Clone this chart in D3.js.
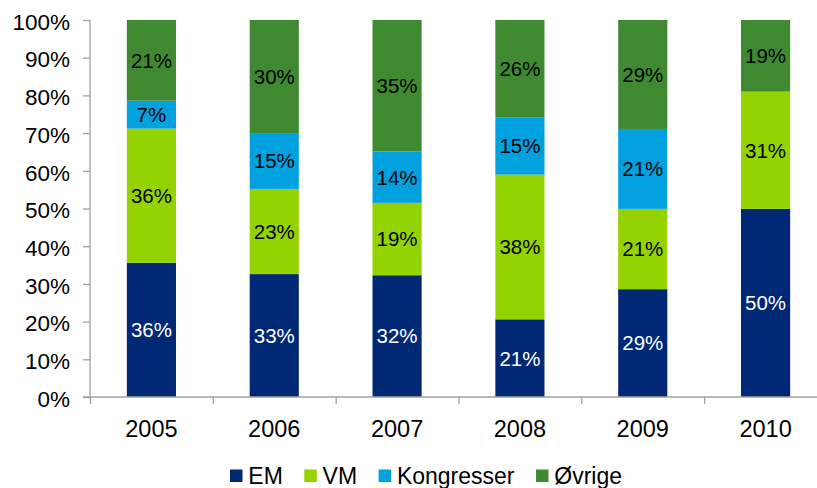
<!DOCTYPE html>
<html>
<head>
<meta charset="utf-8">
<script src="https://cdn.jsdelivr.net/npm/d3@7"></script>
<style>
  body { margin: 0; background: #fff; }
  text { font-family: "Liberation Sans", Arial, sans-serif; }
</style>
</head>
<body>
<div id="chart"></div>
<script>
// data (share of total, %)
const years = ["2005", "2006", "2007", "2008", "2009", "2010"];
const seriesNames = ["EM", "VM", "Kongresser", "Øvrige"];
const emValues = [35.6, 32.6, 32.3, 20.6, 28.6, 49.9];
const vmValues = [35.6, 22.6, 19.2, 38.4, 21.3, 31.1];
const kongValues = [7.4, 14.8, 13.6, 15.1, 21.2, 0];
const ovrigeValues = [21.4, 30.0, 34.9, 25.9, 28.9, 19.0];
const yTicks = [0, 10, 20, 30, 40, 50, 60, 70, 80, 90, 100];

const colors = ["#002874", "#94d200", "#00a1de", "#3f8a30"];
const labelColors = ["#ffffff", "#000000", "#000000", "#000000"];

const svgWidth = 817;
const svgHeight = 488;

const plot = { left: 90, right: 827, top: 20, bottom: 397 };

const svg = d3.select("#chart")
  .append("svg")
  .attr("width", svgWidth)
  .attr("height", svgHeight);

// table for the stack
const table = years.map((y, i) => ({
  year: y,
  EM: emValues[i],
  VM: vmValues[i],
  Kongresser: kongValues[i],
  "Øvrige": ovrigeValues[i]
}));

const stack = d3.stack().keys(seriesNames)(table);

// scales
const xScale = d3.scaleBand()
  .domain(years)
  .range([plot.left, plot.right])
  .paddingInner(0.6)
  .paddingOuter(0.3);

const xEdge = d3.scaleLinear()
  .domain([0, years.length])
  .range([plot.left, plot.right]);

const yScale = d3.scaleLinear()
  .domain([0, 100])
  .range([plot.bottom, plot.top]);

// bars
const layers = svg.selectAll("g.layer")
  .data(stack)
  .enter()
  .append("g")
  .attr("class", "layer")
  .attr("fill", (d, i) => colors[i]);

layers.selectAll("rect")
  .data(d => d)
  .enter()
  .append("rect")
  .attr("x", d => xScale(d.data.year))
  .attr("width", xScale.bandwidth())
  .attr("y", d => yScale(d[1]))
  .attr("height", d => yScale(d[0]) - yScale(d[1]));

// value labels inside the segments
stack.forEach(function (layer, i) {
  svg.append("g")
    .selectAll("text")
    .data(layer.filter(d => d[1] - d[0] > 0))
    .enter()
    .append("text")
    .attr("x", d => xScale(d.data.year) + xScale.bandwidth() / 2)
    .attr("y", d => yScale((d[0] + d[1]) / 2))
    .attr("dy", "0.36em")
    .attr("text-anchor", "middle")
    .attr("font-size", "20.5px")
    .attr("fill", labelColors[i])
    .text(d => Math.round(d[1] - d[0]) + "%");
});

// y axis
const yAxis = svg.append("g")
  .attr("transform", `translate(${plot.left}, 0)`)
  .call(d3.axisLeft(yScale)
    .tickValues(yTicks)
    .tickSize(7)
    .tickPadding(13)
    .tickFormat(d => d + "%"));

// x axis: tick marks between categories
const xAxis = svg.append("g")
  .attr("transform", `translate(0, ${plot.bottom})`)
  .call(d3.axisBottom(xEdge)
    .tickValues(d3.range(0, years.length + 1))
    .tickSize(7)
    .tickSizeOuter(0)
    .tickFormat(""));

// x axis labels
const xLabels = svg.append("g")
  .attr("transform", `translate(0, ${plot.bottom})`)
  .call(d3.axisBottom(xScale).tickSize(0).tickPadding(23));
xLabels.select(".domain").remove();

[yAxis, xAxis].forEach(g => {
  g.selectAll("path, line").attr("stroke", "#a0a0a0").attr("stroke-width", 1.3);
});
yAxis.select(".domain").attr("d", `M0,${plot.top}V${plot.bottom + 0.5}`);
xAxis.select(".domain").attr("d", `M${plot.left - 7},0H${plot.right}`);

yAxis.selectAll("text")
  .attr("font-size", "22.5px")
  .attr("dy", "0.41em")
  .attr("fill", "#000");
xLabels.selectAll("text")
  .attr("font-size", "23.5px")
  .attr("fill", "#000");

// legend
const legend = svg.append("g").attr("transform", "translate(230, 484)");
let lx = 0;
seriesNames.forEach(function (name, i) {
  const item = legend.append("g").attr("transform", `translate(${lx}, 0)`);
  item.append("rect")
    .attr("x", 0)
    .attr("y", -14.5)
    .attr("width", 12.5)
    .attr("height", 12.5)
    .attr("fill", colors[i]);
  const t = item.append("text")
    .attr("x", 18.3)
    .attr("font-size", "23px")
    .attr("fill", "#000")
    .text(name);
  lx += 18.3 + t.node().getComputedTextLength() + 21.5;
});
</script>
</body>
</html>
